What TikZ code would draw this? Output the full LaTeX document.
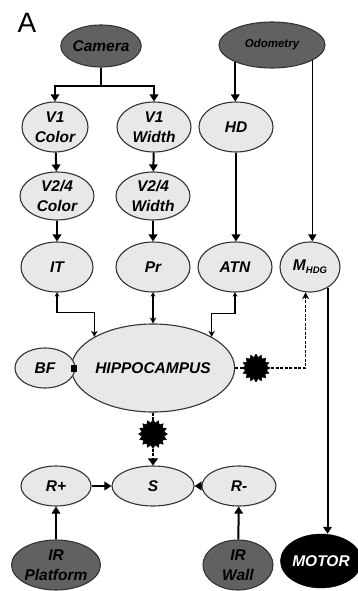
\documentclass[tikz,border=0pt]{standalone}
\usepackage{fontspec}
\setmainfont{Liberation Sans}
\usetikzlibrary{shapes.geometric,arrows.meta,backgrounds}
\begin{document}
\begin{tikzpicture}[x=1pt,y=-1pt,
  lbl/.style={font=\fontsize{15.5}{20}\selectfont\bfseries\itshape, align=center},
  light/.style={ellipse, draw=black!80, line width=1.1pt, fill=black!9, inner sep=0pt, lbl},
  dark/.style={ellipse, draw=black!80, line width=1.1pt, fill=black!62, inner sep=0pt, lbl},
  burst/.style={star, star points=16, star point ratio=1.3, fill=black, draw=black, inner sep=0pt, minimum size=28pt},
  mainarr/.style={line width=2pt, -{Triangle[length=7pt,width=8.5pt]}},
  thinarr/.style={line width=1.3pt, -{Triangle[length=7pt,width=8pt]}},
  hiparr/.style={line width=1.4pt, {Stealth[length=4pt,width=5pt]}-{Stealth[length=6pt,width=6.5pt]}},
  dasharr/.style={line width=1.5pt, dash pattern=on 3pt off 1.5pt},
]
\useasboundingbox (0,0) rectangle (357,591);
\node[font=\fontsize{28}{30}\selectfont] (A) at (27,23) {A};

\node[dark, minimum width=72pt, minimum height=42pt] (cam) at (101,46) {Camera};
\node[dark, minimum width=106pt, minimum height=46pt, font=\fontsize{11.5}{13}\selectfont\bfseries\itshape] (odo) at (272,45) {Odometry};

\node[light, minimum width=66pt, minimum height=50pt] (v1c) at (55,127) {V1\\Color};
\node[light, minimum width=74pt, minimum height=50pt] (v1w) at (154,127) {V1\\Width};
\node[light, minimum width=74pt, minimum height=50pt] (hd) at (236,127) {HD};

\node[light, minimum width=74pt, minimum height=48pt] (v2c) at (57,196) {V2/4\\Color};
\node[light, minimum width=74pt, minimum height=48pt] (v2w) at (153,196) {V2/4\\Width};

\node[light, minimum width=72pt, minimum height=50pt] (it) at (57,267) {IT};
\node[light, minimum width=74pt, minimum height=50pt] (pr) at (153,267) {Pr};
\node[light, minimum width=74pt, minimum height=50pt] (atn) at (235,267) {ATN};
\node[light, minimum width=60pt, minimum height=50pt] (mhdg) at (310,267) {M\raisebox{-0.35ex}{\fontsize{9.5}{10}\selectfont HDG}};

\node[light, minimum width=140pt, minimum height=88pt] (hip) at (153,368) {HIPPOCAMPUS};
\node[light, minimum width=60pt, minimum height=40pt] (bf) at (45,368) {BF};

\node[light, minimum width=82pt, minimum height=40pt] (s) at (153,486) {S};
\node[light, minimum width=70pt, minimum height=40pt] (rp) at (56,486) {R+};
\node[light, minimum width=74pt, minimum height=40pt] (rm) at (239,486) {R-};

\node[dark, minimum width=78pt, minimum height=50pt] (irp) at (56,565) {IR\\Platform};
\node[dark, minimum width=70pt, minimum height=50pt] (irw) at (238,565) {IR\\Wall};
\node[ellipse, draw=black, fill=black, text=white, inner sep=0pt, lbl, minimum width=68pt, minimum height=54pt] (motor) at (321,561) {MOTOR};

\begin{scope}[on background layer]
  \fill[white] (0,0) rectangle (357,591);
  \draw[dasharr, -{Stealth[length=7pt,width=7pt]}] (hip.east) -| (mhdg.-100);
  \draw[dasharr, -{Triangle[length=7pt,width=10pt]}] (hip.south) -- (s.north);
\end{scope}
\node[burst] (b1) at (256,368) {};
\node[burst, minimum size=29pt] (b2) at (153,434) {};

% camera branches
\coordinate (cj) at (101,86);
\draw[line width=2pt] (cam.south) -- (cj);
\draw[mainarr] (cj) -| (v1c.north);
\draw[mainarr] (cj) -| (v1w.north);
\draw[mainarr] (v1c) -- (v2c);
\draw[mainarr] (v1w) -- (v2w);
\draw[mainarr] (v2c) -- (it);
\draw[mainarr] (v2w) -- (pr);

% odometry
\draw[mainarr] (odo.-155) -- (odo.-155 |- hd.north);
\draw[mainarr] (hd.south) -- (atn.north -| hd.south);
\draw[thinarr] (odo.-21) -- (odo.-21 |- mhdg.north);
\draw[mainarr] (mhdg.-50) -- (mhdg.-50 |- motor.north);

% hippocampus inputs
\draw[hiparr] (it.south) -- ++(0,20) -| (hip.152);
\draw[hiparr] (pr.south) -- (hip.north);
\draw[hiparr] (atn.south) -- ++(0,21) -| (hip.28);
\draw[line width=2.2pt, -{Square[length=6pt,width=7pt]}] (bf.east) -- (hip.west);

% reward
\draw[mainarr] (rp) -- (s);
\draw[mainarr] (rm) -- (s);
\draw[mainarr] (irp) -- (rp);
\draw[mainarr] (irw) -- (rm);
\end{tikzpicture}
\end{document}
